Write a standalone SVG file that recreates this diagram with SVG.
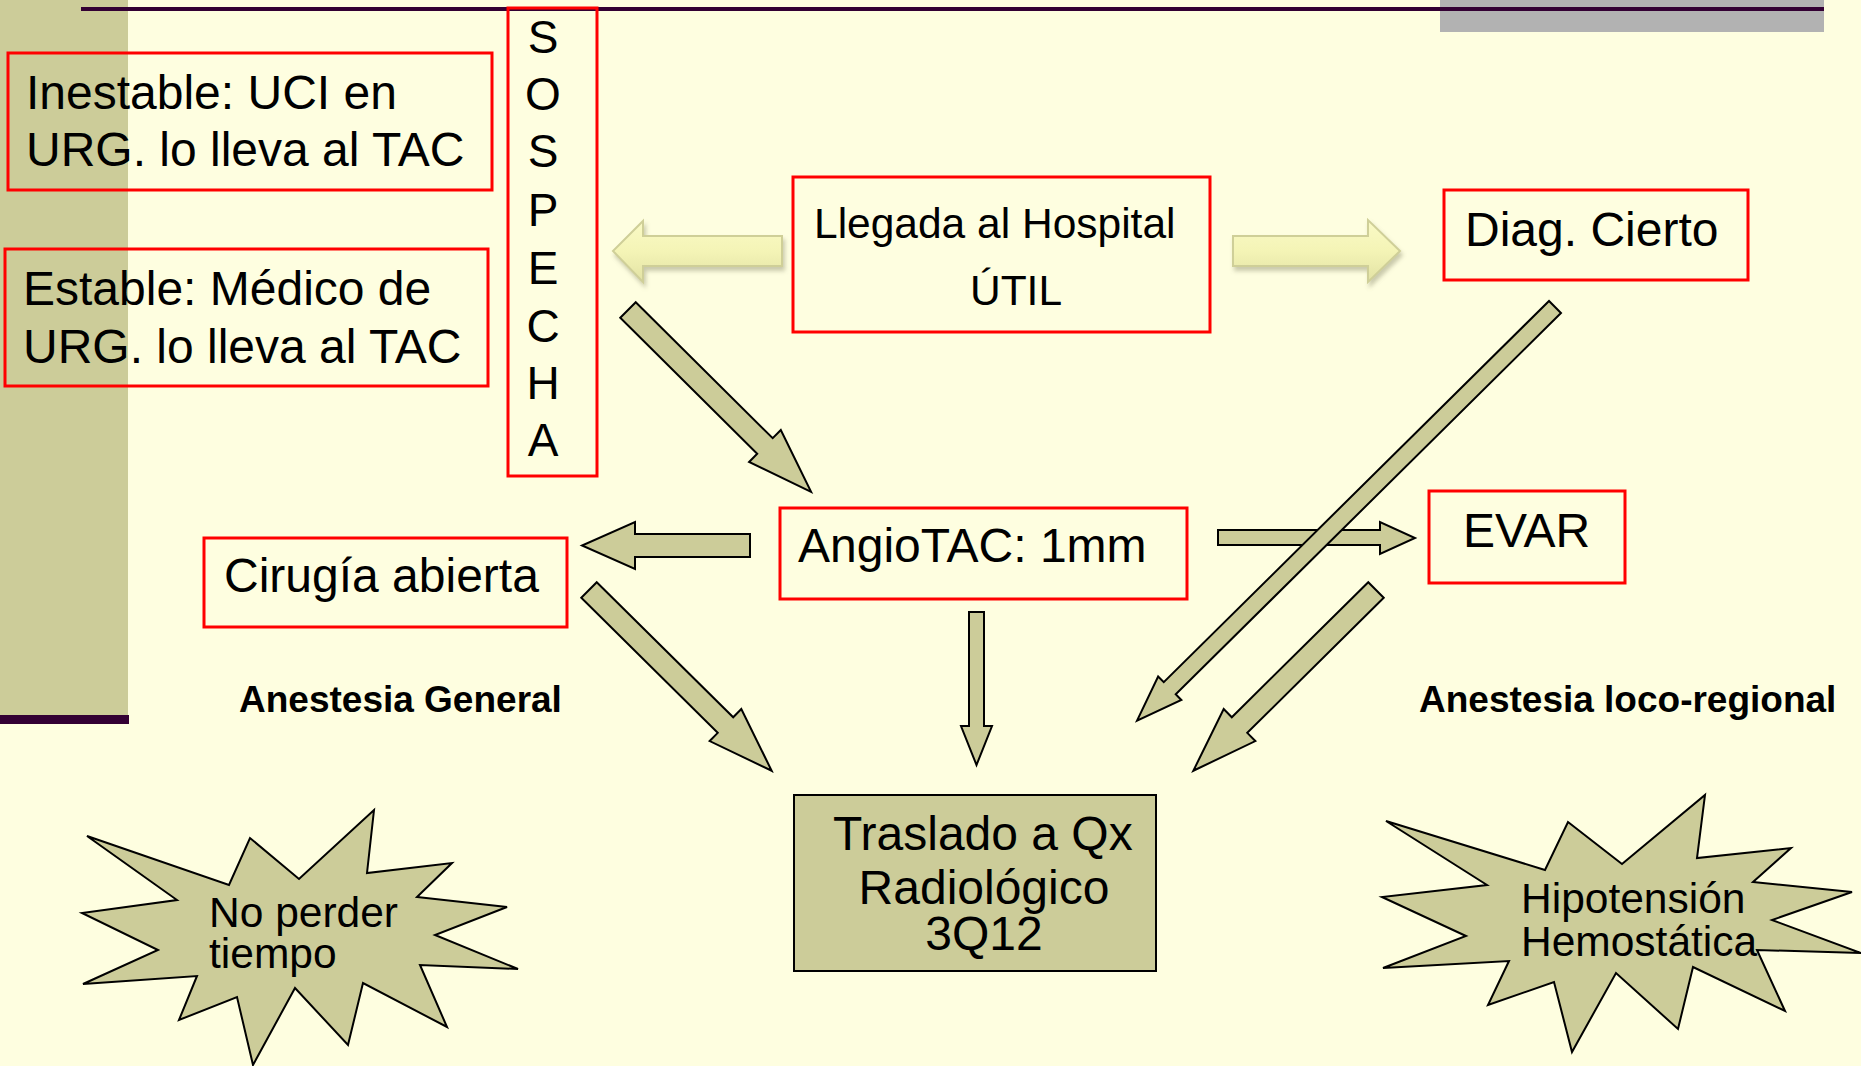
<svg xmlns="http://www.w3.org/2000/svg" width="1861" height="1066" viewBox="0 0 1861 1066">
<defs>
<style>
.box{fill:none;stroke:#FF0000;stroke-width:3}
.t{font-family:"Liberation Sans",Arial,sans-serif;fill:#000}
.t47{font-size:48px}
.t42{font-size:42.5px}
.b{font-size:37px;font-weight:bold}
.arr{fill:#CCCC99;stroke:#000;stroke-width:2;stroke-linejoin:miter}
.star{fill:#CCCC99;stroke:#000;stroke-width:2}
.yarr{fill:url(#yg);stroke:#CFCF98;stroke-width:2;filter:url(#sh)}
</style>
<linearGradient id="yg" x1="0" y1="0" x2="0" y2="1">
<stop offset="0" stop-color="#FAFAC6"/>
<stop offset="0.5" stop-color="#F4F4B6"/>
<stop offset="1" stop-color="#E2E2A4"/>
</linearGradient>
<filter id="sh" x="-20%" y="-30%" width="140%" height="170%">
<feDropShadow dx="2" dy="4" stdDeviation="2" flood-color="#8A8A6A" flood-opacity="0.45"/>
</filter>
</defs>
<rect x="0" y="0" width="1861" height="1066" fill="#FEFEE0"/>
<rect x="0" y="0" width="128" height="716" fill="#CCCC99"/>
<rect x="0" y="715" width="129" height="9" fill="#330033"/>
<rect x="1440" y="0" width="384" height="32" fill="#B2B2B2"/>
<rect x="81" y="7" width="1743" height="4" fill="#330033"/>

<g id="connectors">
<polygon class="yarr" points="782,236 643,236 643,221 613,251 643,282 643,266 782,266"/>
<polygon class="yarr" points="1233,236 1368,236 1368,220 1400,251 1368,282 1368,266 1233,266"/>
<polygon class="arr" transform="translate(628,310) rotate(44.8)" points="0,-11 193,-11 193,-22.5 258,0 193,22.5 193,11 0,11"/>
<polygon class="arr" transform="translate(589,590) rotate(44.7)" points="0,-11 192,-11 192,-22.5 257,0 192,22.5 192,11 0,11"/>
<polygon class="arr" transform="translate(1376,590) rotate(135.3)" points="0,-11 192,-11 192,-22.5 257,0 192,22.5 192,11 0,11"/>
<polygon class="arr" points="750,534 635,534 635,522 582,545.5 635,569 635,557 750,557"/>
<polygon class="arr" points="1218,530 1380,530 1380,522 1415,538 1380,554 1380,545 1218,545"/>
<polygon class="arr" points="969,612 984,612 984,726 992,726 976.5,765 961,726 969,726"/>
<polygon class="arr" transform="translate(1555,307) rotate(135.3)" points="0,-8.5 542,-8.5 542,-16.5 588,0 542,16.5 542,8.5 0,8.5"/>
</g>

<g id="inestable">
<rect class="box" x="8" y="53" width="484" height="137"/>
<text class="t t47" x="26" y="109">Inestable: UCI en</text>
<text class="t t47" x="26" y="166">URG. lo lleva al TAC</text>
</g>
<g id="estable">
<rect class="box" x="5" y="249" width="483" height="137"/>
<text class="t t47" x="23" y="305">Estable: Médico de</text>
<text class="t t47" x="23" y="363">URG. lo lleva al TAC</text>
</g>
<g id="sospecha">
<rect class="box" x="508" y="8" width="89" height="468"/>
<g class="t" font-size="46" text-anchor="middle">
<text x="543" y="53">S</text>
<text x="543" y="110">O</text>
<text x="543" y="167">S</text>
<text x="543" y="226">P</text>
<text x="543" y="284">E</text>
<text x="543" y="342">C</text>
<text x="543" y="399">H</text>
<text x="543" y="456">A</text>
</g>
</g>
<g id="llegada">
<rect class="box" x="793" y="177" width="417" height="155"/>
<text class="t t42" x="814" y="238">Llegada al Hospital</text>
<text class="t t42" x="1016" y="305" text-anchor="middle">ÚTIL</text>
</g>
<g id="diag">
<rect class="box" x="1444" y="190" width="304" height="90"/>
<text class="t t47" x="1465" y="246">Diag. Cierto</text>
</g>
<g id="angiotac">
<rect class="box" x="780" y="508" width="407" height="91"/>
<text class="t t47" x="798" y="562">AngioTAC: 1mm</text>
</g>
<g id="evar">
<rect class="box" x="1429" y="491" width="196" height="92"/>
<text class="t t47" x="1463" y="547">EVAR</text>
</g>
<g id="cirugia">
<rect class="box" x="204" y="538" width="363" height="89"/>
<text class="t t47" x="224" y="592">Cirugía abierta</text>
</g>
<g id="anest-general">
<text class="t b" x="239" y="712">Anestesia General</text>
</g>
<g id="anest-loco">
<text class="t b" x="1419" y="712">Anestesia loco-regional</text>
</g>
<g id="traslado">
<rect x="794" y="795" width="362" height="176" fill="#CCCC99" stroke="#000" stroke-width="2"/>
<text class="t t47" x="833" y="850">Traslado a Qx</text>
<text class="t t47" x="984" y="904" text-anchor="middle">Radiológico</text>
<text class="t t47" x="984" y="950" text-anchor="middle">3Q12</text>
</g>
<g id="no-perder">
<polygon class="star" points="87,836 229,885 250,838 299,879 374,810 367,873 452,863 417,897 507,907 435,935 518,969 420,965 447,1027 363,983 348,1045 295,988 253,1065 237,997 179,1020 197,976 83,984 158,950 82,913 177,900"/>
<text class="t t42" x="209" y="927">No perder</text>
<text class="t t42" x="209" y="968">tiempo</text>
</g>
<g id="hipotension">
<polygon class="star" points="1386,821 1545,870 1568,822 1622,864 1705,795 1697,858 1791,848 1753,882 1852,892 1772,920 1861,953 1757,950 1785,1011 1693,967 1678,1029 1616,973 1572,1052 1554,982 1488,1005 1509,961 1383,968 1466,936 1382,897 1487,885"/>
<text class="t t42" x="1521" y="913">Hipotensión</text>
<text class="t t42" x="1521" y="956">Hemostática</text>
</g>
</svg>
